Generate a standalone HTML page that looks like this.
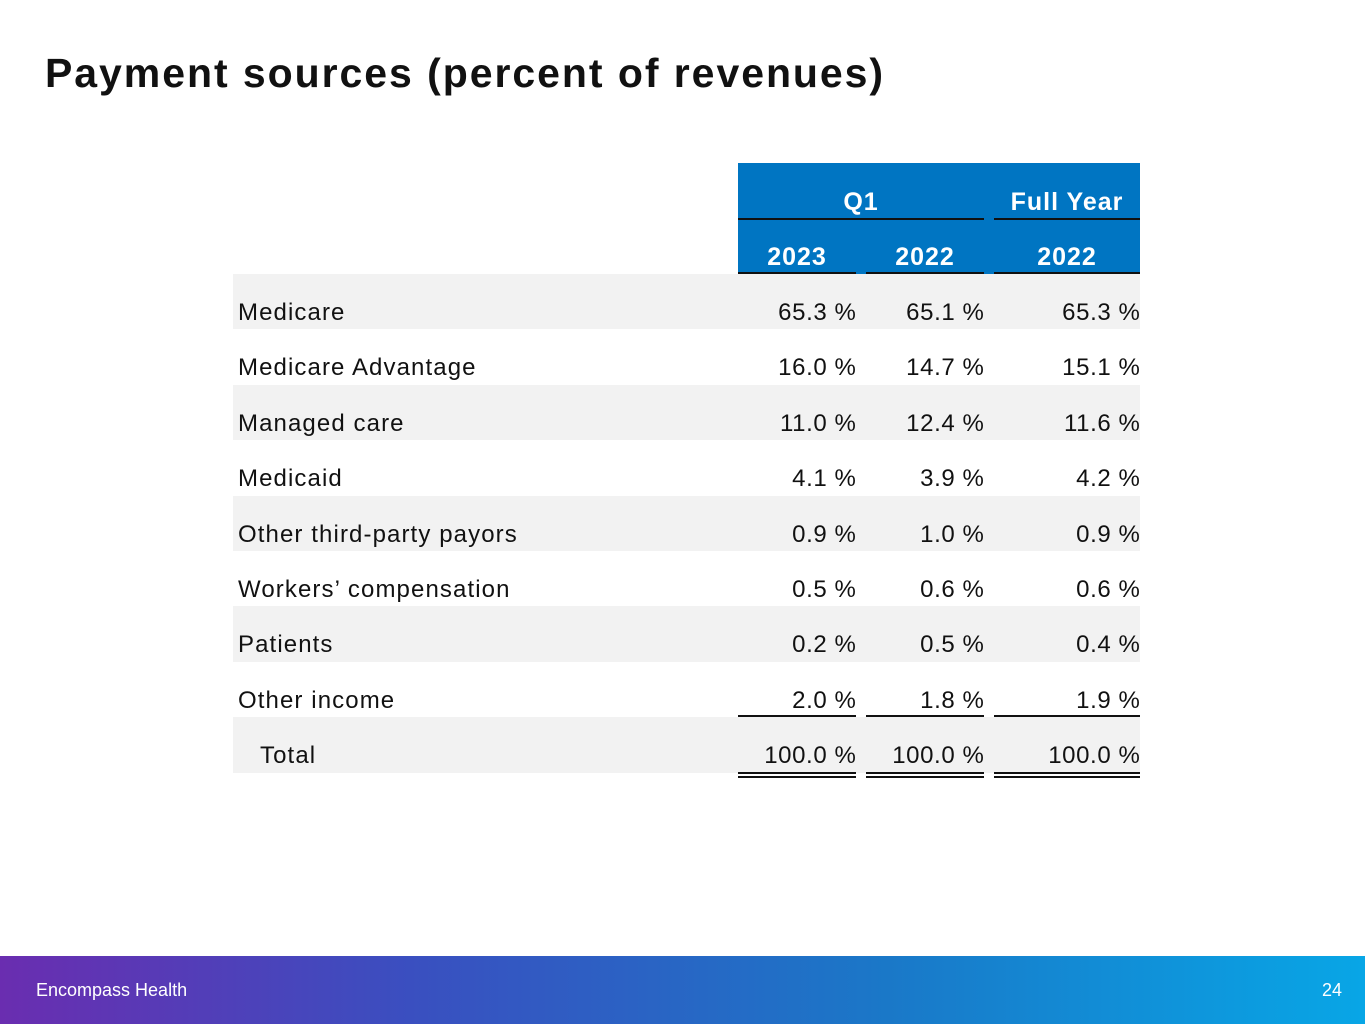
<!DOCTYPE html>
<html><head><meta charset="utf-8"><style>
body{margin:0;width:1365px;height:1024px;position:relative;background:#fff;font-family:"Liberation Sans","DejaVu Sans",sans-serif;overflow:hidden}
.a{position:absolute}
#title{left:45px;top:50px;font-size:41px;font-weight:bold;color:#111;letter-spacing:1.95px}
.hd{background:#0075c2}
.ht{color:#fff;font-weight:bold;font-size:25px;text-align:center;line-height:55px;letter-spacing:1px}
.line{background:#111;height:2px}
.lbl{font-size:24px;color:#111;line-height:55px;letter-spacing:1.1px;padding-top:11px}
.val{font-size:24px;color:#111;line-height:55px;text-align:right;letter-spacing:0.6px;padding-top:11px}
#footer{left:0;top:956px;width:1365px;height:68px;background:linear-gradient(90deg,#6a2db0 0%,#3a4fc0 30%,#1a78c8 65%,#08a6e6 100%)}
.ft{color:#fff;font-size:18px;top:980px}
</style></head><body>
<div id="title" class="a">Payment sources (percent of revenues)</div>
<div class="a hd" style="left:738px;top:163px;width:402px;height:111px"></div>
<div class="a ht" style="left:738px;top:175px;width:246px">Q1</div>
<div class="a ht" style="left:994px;top:175px;width:146px">Full Year</div>
<div class="a line" style="left:738px;top:218px;width:246px"></div>
<div class="a line" style="left:994px;top:218px;width:146px"></div>
<div class="a ht" style="left:738px;top:230px;width:118px">2023</div>
<div class="a ht" style="left:866px;top:230px;width:118px">2022</div>
<div class="a ht" style="left:994px;top:230px;width:146px">2022</div>
<div class="a line" style="left:738px;top:272px;width:118px"></div>
<div class="a line" style="left:866px;top:272px;width:118px"></div>
<div class="a line" style="left:994px;top:272px;width:146px"></div>
<div id="rows"></div>
<div id="footer" class="a"></div>
<div class="a ft" style="left:36px">Encompass Health</div>
<div class="a ft" style="left:1322px">24</div>
<script>
const categories=["Medicare","Medicare Advantage","Managed care","Medicaid","Other third-party payors","Workers’ compensation","Patients","Other income","Total"];
const q1_2023=["65.3","16.0","11.0","4.1","0.9","0.5","0.2","2.0","100.0"];
const q1_2022=["65.1","14.7","12.4","3.9","1.0","0.6","0.5","1.8","100.0"];
const fy_2022=["65.3","15.1","11.6","4.2","0.9","0.6","0.4","1.9","100.0"];
const root=document.getElementById('rows');
const cols=[[738,118,q1_2023],[866,118,q1_2022],[994,146,fy_2022]];
const top0=274,rh=55.4;
function mk(cls,style){const d=document.createElement('div');d.className='a '+cls;d.setAttribute('style',style);root.appendChild(d);return d;}
categories.forEach((c,i)=>{
  const y=top0+i*rh;
  if(i%2===0){const b=mk('','left:233px;top:'+y+'px;width:907px;height:'+rh+'px;background:#f2f2f2');
    
    }
  const l=mk('lbl','left:'+(i===8?260:238)+'px;top:'+y+'px');l.textContent=c;
  
  
  cols.forEach((col,j)=>{
    const v=mk('val','left:'+col[0]+'px;top:'+y+'px;width:'+(col[1]+0.5)+'px');v.textContent=col[2][i]+' %';
    
    
    if(i===7){const r=mk('line','left:'+col[0]+'px;top:'+(y+rh-2)+'px;width:'+col[1]+'px');
      
      }
    if(i===8){const r=mk('','left:'+col[0]+'px;top:'+(y+rh-1)+'px;width:'+col[1]+'px;border-bottom:2px solid #111;border-top:2px solid #111;height:2px;box-sizing:content-box');
      
      }
  });
});
</script>
</body></html>
